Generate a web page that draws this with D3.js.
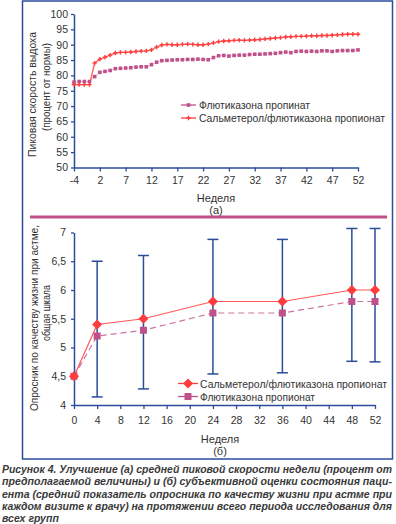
<!DOCTYPE html>
<html><head><meta charset="utf-8">
<script src="https://cdn.jsdelivr.net/npm/d3@7"></script>
<style>body{margin:0;background:#fff}svg{display:block}text{font-family:"Liberation Sans",Arial,sans-serif}</style>
</head><body><svg id="c" width="396" height="524"></svg>
<script>
// ---- Panel (a) data ----
const weeksA = [-4,-3,-2,-1,1,2,3,4,5,6,7,8,9,10,11,12,13,14,15,16,17,18,19,20,21,22,23,24,25,26,27,28,29,30,31,32,33,34,35,36,37,38,39,40,41,42,43,44,45,46,47,48,49,50,51,52];
const salmA = [77,77,77,77,84,85.3,85.9,86.6,87.3,87.5,87.5,87.6,87.8,87.9,88,88.3,89.2,89.9,90.1,90,90,90.1,90.2,90.1,90,90,90.2,90.6,91,91.2,91.3,91.4,91.5,91.4,91.5,91.6,91.7,91.9,92,92.2,92.3,92.5,92.6,92.7,92.7,92.8,92.9,92.9,93,93,93.1,93.2,93.3,93.4,93.4,93.4];
const flutA = [77.8,78,78,78,79.6,81,81.3,81.6,82.2,82.3,82.4,82.5,82.7,82.8,82.8,83.5,84.3,84.8,84.9,85,85.1,85.1,85.2,85.2,85.3,85.2,85.1,85.8,86.4,86.5,86.3,86.5,86.6,86.6,86.8,86.9,86.9,87,87.1,87.2,87.4,87.6,87.4,87.8,87.9,87.8,87.9,87.8,88,88,87.8,88,88.1,88.1,88.1,88.3];
const tickLabelsA = ["-4","2","7","12","17","22","27","32","37","42","47","52"];
const yTicksA = [50,55,60,65,70,75,80,85,90,95,100];

// ---- Panel (b) data ----
const weeksB = [0,4,12,24,36,48,52];
const salmB = [4.5,5.4,5.5,5.8,5.8,6.0,6.0];
const flutB = [4.5,5.2,5.3,5.6,5.6,5.8,5.8];
const errWeeks = [4,12,24,36,48,52];
const errLow = [4.14,4.28,4.54,4.56,4.76,4.75];
const errHigh = [6.5,6.6,6.88,6.88,7.07,7.07];
const xTicksB = [0,4,8,12,16,20,24,28,32,36,40,44,48,52];
const yTicksB = [4,4.5,5,5.5,6,6.5,7];

const captionLines = [
 "Рисунок 4. Улучшение (а) средней пиковой скорости недели (процент от",
 "предполагаемой величины) и (б) субъективной оценки состояния паци-",
 "ента (средний показатель опросника по качеству жизни при астме при",
 "каждом визите к врачу) на протяжении всего периода исследования для",
 "всех групп"
];

const BLUE = "#2b4c9b", RED = "#ff3b3b", PURP = "#c0508a", TXT = "#333";
const svg = d3.select("#c");
const styleAxis = g=>{g.select(".domain").attr("stroke",BLUE).attr("stroke-width",1.5);
  g.selectAll("line").attr("stroke",BLUE).attr("stroke-width",1.3);
  g.selectAll("text").attr("font-size",10.5).attr("fill",TXT).attr("font-family","Liberation Sans");};

// frame
svg.append("rect").attr("x",22.5).attr("y",1).attr("width",370).attr("height",458)
  .attr("fill","none").attr("stroke",BLUE).attr("stroke-width",1.5);
svg.append("rect").attr("x",30).attr("y",215.5).attr("width",357).attr("height",3).attr("fill",PURP);

// ---- Panel (a) ----
const xA = d3.scaleLinear().domain([0, weeksA.length-1]).range([74, 358]);
const yA = d3.scaleLinear().domain([50,100]).range([167.5,14]);
const gA = svg.append("g");
const tickIdx = tickLabelsA.map(l => weeksA.indexOf(+l));
gA.append("g").attr("transform","translate(0,167.5)")
  .call(d3.axisBottom(xA).tickValues(tickIdx).tickFormat((d,i)=>tickLabelsA[i]).tickSize(4).tickSizeOuter(0).tickPadding(5))
  .call(styleAxis);
gA.append("g").attr("transform","translate(74,0)")
  .call(d3.axisLeft(yA).tickValues(yTicksA).tickSize(3).tickSizeOuter(0).tickPadding(3))
  .call(styleAxis);
const lineA = d3.line().x((d,i)=>xA(i)).y(d=>yA(d));
gA.append("path").datum(flutA).attr("d",lineA).attr("fill","none").attr("stroke",PURP).attr("stroke-width",0.8).attr("stroke-opacity",0.45);
gA.append("path").datum(salmA).attr("d",lineA).attr("fill","none").attr("stroke",RED).attr("stroke-width",1.4).attr("stroke-opacity",0.8);
gA.selectAll(".sq").data(flutA).join("rect").attr("x",(d,i)=>xA(i)-1.8).attr("y",d=>yA(d)-1.8)
  .attr("width",3.6).attr("height",3.6).attr("fill",PURP);
gA.selectAll(".pl").data(salmA).join("path")
  .attr("d",(d,i)=>{const x=xA(i),y=yA(d);return `M${x-2.2},${y}H${x+2.2}M${x},${y-2.2}V${y+2.2}`;})
  .attr("stroke",RED).attr("stroke-width",1.4);
// y title
gA.append("text").attr("transform","translate(36,94.5) rotate(-90)").attr("text-anchor","middle")
  .attr("font-size",11).attr("fill",TXT).attr("textLength",125).attr("lengthAdjust","spacingAndGlyphs").text("Пиковая скорость выдоха");
gA.append("text").attr("transform","translate(49.5,87) rotate(-90)").attr("text-anchor","middle")
  .attr("font-size",11).attr("fill",TXT).attr("textLength",88).attr("lengthAdjust","spacingAndGlyphs").text("(процент от нормы)");
gA.append("text").attr("x",216).attr("y",202).attr("text-anchor","middle").attr("font-size",11).attr("fill",TXT).text("Неделя");
gA.append("text").attr("x",216).attr("y",214).attr("text-anchor","middle").attr("font-size",11).attr("fill",TXT).text("(а)");
// legend a
const legA = [{t:"Флютиказона пропинат",c:PURP,m:"sq",w:111},{t:"Сальметерол/флютиказона пропионат",c:RED,m:"pl",w:186}];
legA.forEach((l,i)=>{
  const y = 105 + i*13;
  gA.append("line").attr("x1",181).attr("x2",196).attr("y1",y).attr("y2",y).attr("stroke",l.c).attr("stroke-width",1.3);
  if(l.m==="sq") gA.append("rect").attr("x",186.7).attr("y",y-1.8).attr("width",3.6).attr("height",3.6).attr("fill",l.c);
  else gA.append("path").attr("d",`M186.3,${y}H190.7M188.5,${y-2.2}V${y+2.2}`).attr("stroke",l.c).attr("stroke-width",1.4);
  gA.append("text").attr("x",199).attr("y",y+4).attr("font-size",11).attr("fill",TXT)
    .attr("textLength",l.w).attr("lengthAdjust","spacingAndGlyphs").text(l.t);
});

// ---- Panel (b) ----
const xB = d3.scaleLinear().domain([0,52]).range([74,375]);
const yB = d3.scaleLinear().domain([4,7]).range([405,232.5]);
const gB = svg.append("g");
gB.append("g").attr("transform","translate(0,405)")
  .call(d3.axisBottom(xB).tickValues(xTicksB).tickSize(4).tickSizeOuter(0).tickPadding(8))
  .call(styleAxis);
gB.append("g").attr("transform","translate(74,0)")
  .call(d3.axisLeft(yB).tickValues(yTicksB).tickFormat(d=>String(d).replace(".",",")).tickSize(3).tickSizeOuter(0).tickPadding(5))
  .call(styleAxis);
// error bars
errWeeks.forEach((w,i)=>{
  const x = xB(w);
  gB.append("line").attr("x1",x).attr("x2",x).attr("y1",yB(errLow[i])).attr("y2",yB(errHigh[i])).attr("stroke",BLUE).attr("stroke-width",1.5);
  [errLow[i],errHigh[i]].forEach(v=>gB.append("line").attr("x1",x-5.5).attr("x2",x+5.5).attr("y1",yB(v)).attr("y2",yB(v)).attr("stroke",BLUE).attr("stroke-width",1.5));
});
const lineB = d3.line().x((d,i)=>xB(weeksB[i])).y(d=>yB(d));
gB.append("path").datum(flutB).attr("d",lineB).attr("fill","none").attr("stroke",PURP).attr("stroke-width",1.2).attr("stroke-dasharray","6,4").attr("stroke-opacity",0.8);
gB.append("path").datum(salmB).attr("d",lineB).attr("fill","none").attr("stroke",RED).attr("stroke-width",1.2).attr("stroke-opacity",0.85);
gB.selectAll(".sqb").data(flutB).join("rect").attr("x",(d,i)=>xB(weeksB[i])-3.5).attr("y",d=>yB(d)-3.5)
  .attr("width",7).attr("height",7).attr("fill",PURP);
gB.selectAll(".dmb").data(salmB).join("path")
  .attr("d",(d,i)=>{const x=xB(weeksB[i]),y=yB(d);return `M${x},${y-5}L${x+5},${y}L${x},${y+5}L${x-5},${y}Z`;})
  .attr("fill",RED);
gB.append("text").attr("transform","translate(38,318) rotate(-90)").attr("text-anchor","middle")
  .attr("font-size",11).attr("fill",TXT).attr("textLength",186).attr("lengthAdjust","spacingAndGlyphs").text("Опросник по качеству жизни при астме,");
gB.append("text").attr("transform","translate(49.5,313) rotate(-90)").attr("text-anchor","middle")
  .attr("font-size",11).attr("fill",TXT).attr("textLength",56).attr("lengthAdjust","spacingAndGlyphs").text("общая шкала");
gB.append("text").attr("x",220).attr("y",443).attr("text-anchor","middle").attr("font-size",11).attr("fill",TXT).text("Неделя");
gB.append("text").attr("x",220).attr("y",455).attr("text-anchor","middle").attr("font-size",11).attr("fill",TXT).text("(б)");
const legB = [{t:"Сальметерол/флютиказона пропионат",c:RED,m:"dm",w:187},{t:"Флютиказона пропионат",c:PURP,m:"sq",w:115}];
legB.forEach((l,i)=>{
  const y = 383.5 + i*13;
  gB.append("line").attr("x1",178).attr("x2",198).attr("y1",y).attr("y2",y).attr("stroke",l.c).attr("stroke-width",1.3);
  if(l.m==="sq") gB.append("rect").attr("x",184.5).attr("y",y-3.5).attr("width",7).attr("height",7).attr("fill",l.c);
  else gB.append("path").attr("d",`M188,${y-5}L193,${y}L188,${y+5}L183,${y}Z`).attr("fill",l.c);
  gB.append("text").attr("x",200).attr("y",y+4).attr("font-size",11).attr("fill",TXT)
    .attr("textLength",l.w).attr("lengthAdjust","spacingAndGlyphs").text(l.t);
});

// caption
captionLines.forEach((t,i)=>{
  const tx = svg.append("text").attr("x",2).attr("y",473 + i*12.3).attr("font-size",10.5)
    .attr("font-weight","bold").attr("font-style","italic").attr("fill","#3a3a3a").text(t);
  if(i<4) tx.attr("textLength",390).attr("lengthAdjust","spacingAndGlyphs");
});
</script></body></html>
